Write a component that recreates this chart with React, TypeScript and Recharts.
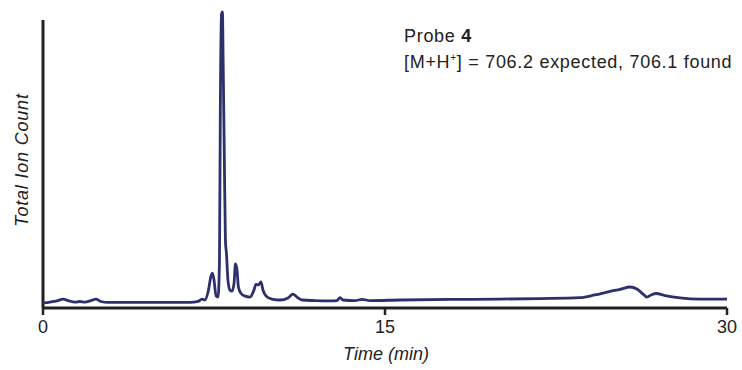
import React from "react";
import { LineChart, Line, XAxis, YAxis, ReferenceLine } from "recharts";

// Retention time (min)
const times: number[] = [
  0, 0.31, 0.61, 0.88, 1.14, 1.4, 1.62, 1.84, 2.1, 2.32, 2.54, 2.85, 3.82, 5.13, 6.45,
  6.8, 6.97, 7.1, 7.24, 7.37, 7.43, 7.5, 7.59, 7.68, 7.74, 7.78, 7.83, 7.87, 7.9, 7.95,
  8.0, 8.05, 8.11, 8.2, 8.29, 8.38, 8.44, 8.51, 8.57, 8.68, 8.86, 9.08, 9.25, 9.34, 9.45,
  9.56, 9.65, 9.78, 10.04, 10.39, 10.75, 10.96, 11.14, 11.36, 11.93, 12.59, 12.89, 13.03,
  13.16, 13.68, 14.0, 14.34, 15.66, 17.85, 20.04, 21.8, 23.55, 24.2, 24.87, 25.31, 25.75,
  26.05, 26.32, 26.49, 26.67, 26.89, 27.28, 27.94, 28.82, 30,
];
// Total ion count (relative, %)
const counts: number[] = [
  1.7, 2.0, 2.4, 3.0, 2.4, 2.0, 2.2, 2.0, 2.5, 3.0, 2.2, 1.9, 1.9, 1.9, 1.9,
  2.2, 3.0, 2.7, 5.4, 10.8, 11.8, 9.5, 4.1, 3.7, 16.2, 70, 99.3, 100, 84, 53,
  23, 18, 9.5, 6, 5.7, 8.4, 14.9, 12.8, 7.1, 5, 4, 3.7, 6, 8, 7.8,
  8.8, 6, 4.1, 3, 2.7, 3.4, 4.7, 3.7, 2.7, 2.5, 2.4, 2.5, 3.5,
  2.7, 2.5, 2.9, 2.5, 2.7, 2.9, 3.0, 3.2, 3.5, 4.4, 5.6, 6.3, 7.1,
  6.4, 4.7, 3.7, 4.4, 4.9, 4.2, 3.4, 3.0, 3.0,
];
const xTicks: number[] = [0, 15, 30];
const yAxisTop = 97.3;

const data = times.map((t, i) => ({ t, v: counts[i] }));

const FONT = "'Liberation Sans', Arial, Helvetica, sans-serif";
const INK = "#222";
const LINE = "#2e306c";

export default function App() {
  return (
    <div style={{ position: "absolute", left: 0, top: 0, width: 742, height: 370, background: "#fff", fontFamily: FONT }}>
      <LineChart width={742} height={370} data={data} margin={{ top: 12, right: 15, bottom: 0, left: 43 }}>
        <XAxis
          dataKey="t"
          type="number"
          domain={[0, 30]}
          ticks={xTicks}
          height={62}
          axisLine={{ stroke: INK, strokeWidth: 3 }}
          tickLine={{ stroke: INK, strokeWidth: 2.5 }}
          tickSize={7}
          tickMargin={5}
          tick={{ fill: INK, fontSize: 18, fontFamily: FONT }}
        />
        <YAxis hide domain={[0, 100]} />
        <ReferenceLine
          segment={[{ x: 0, y: 0 }, { x: 0, y: yAxisTop }]}
          stroke={INK}
          strokeWidth={3}
          ifOverflow="visible"
        />
        <Line
          type="monotone"
          dataKey="v"
          stroke={LINE}
          strokeWidth={2.8}
          dot={false}
          isAnimationActive={false}
        />
      </LineChart>
      <div style={{ position: "absolute", left: 386, top: 344, transform: "translateX(-50%)", fontSize: 18, fontStyle: "italic", color: INK, whiteSpace: "nowrap" }}>
        Time (min)
      </div>
      <div style={{ position: "absolute", left: 22, top: 160, transform: "translate(-50%,-50%) rotate(-90deg)", fontSize: 18, letterSpacing: 0.8, fontStyle: "italic", color: INK, whiteSpace: "nowrap" }}>
        Total Ion Count
      </div>
      <div style={{ position: "absolute", left: 404, top: 25, fontSize: 18, letterSpacing: 0.7, color: INK, lineHeight: "22px", whiteSpace: "nowrap" }}>
        <div>Probe <b>4</b></div>
        <div>[M+H<sup style={{ fontSize: 10 }}>+</sup>] = 706.2 expected, 706.1 found</div>
      </div>
    </div>
  );
}
